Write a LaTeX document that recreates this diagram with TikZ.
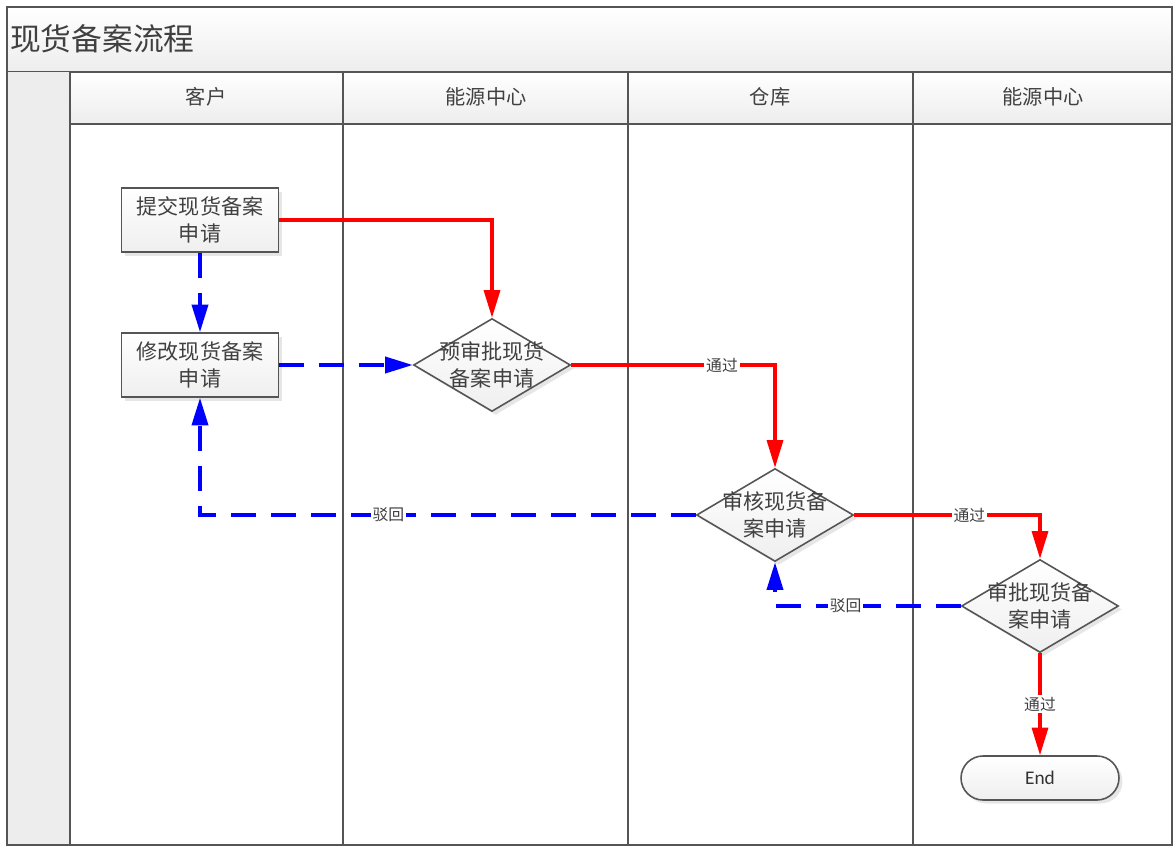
\documentclass[tikz,border=0pt]{standalone}
\usepackage{fontspec}
\setmainfont{Noto Sans CJK SC}
\newfontfamily\latinfont{Carlito}
\usepackage{tikz}
\usetikzlibrary{arrows.meta,shapes.geometric,shadows}
\definecolor{framegray}{HTML}{555555}
\definecolor{textgray}{HTML}{404040}
\definecolor{lanefill}{HTML}{EDEDED}
\tikzset{
    frameline/.style={draw=framegray,line width=1.1pt},
    headfill/.style={frameline,top color=white,bottom color=lanefill},
    lanetext/.style={text=textgray,font=\fontsize{11.5}{13}\selectfont},
    procbox/.style={draw=framegray,line width=0.9pt,top color=white,bottom color=lanefill!90,
      minimum width=3.14cm,minimum height=1.28cm,align=center,text=textgray,font=\fontsize{12}{15}\selectfont,
      drop shadow={opacity=0.2,shadow xshift=2pt,shadow yshift=-2pt}},
    decide/.style={diamond,draw=framegray,line width=0.9pt,top color=white,bottom color=lanefill!90,
      minimum width=3.14cm,minimum height=1.86cm,aspect=1.69,inner xsep=-12pt,inner ysep=-4pt,align=center,text=textgray,
      font=\fontsize{12}{15}\selectfont,drop shadow={opacity=0.2,shadow xshift=2pt,shadow yshift=-2pt}},
    okflow/.style={draw=red,line width=1.8pt,-{Triangle[length=0.55cm,width=0.32cm]}},
    backflow/.style={draw=blue,line width=2pt,dash pattern=on 0.5cm off 0.3cm,-{Triangle[length=0.55cm,width=0.32cm]}},
    flowtag/.style={fill=white,inner sep=1pt,text=textgray,font=\fontsize{9}{10}\selectfont},
  }
\begin{document}
\begin{tikzpicture}[x=0.02cm,y=-0.02cm]
	%bounding box
	\useasboundingbox (0,0) rectangle (1176,848);
	%TITLE AND LANES
	\draw[headfill] (7,7) rectangle (1172,72);
	\node[anchor=west,text=textgray,font=\fontsize{17.5}{20}\selectfont] (title) at (4,39) {现货备案流程};
	\fill[lanefill] (7,72) rectangle (70,845);
	\draw[headfill] (70,72) rectangle (343,124);
	\draw[headfill] (343,72) rectangle (628,124);
	\draw[headfill] (628,72) rectangle (913,124);
	\draw[headfill] (913,72) rectangle (1172,124);
	\node[lanetext] (laneKehu) at (206,97) {客户};
	\node[lanetext] (laneNyA) at (486,97) {能源中心};
	\node[lanetext] (laneCangku) at (770,97) {仓库};
	\node[lanetext] (laneNyB) at (1043,97) {能源中心};
	\draw[frameline] (70,124) -- (70,845);
	\draw[frameline] (343,124) -- (343,845);
	\draw[frameline] (628,124) -- (628,845);
	\draw[frameline] (913,124) -- (913,845);
	\draw[frameline] (7,7) rectangle (1172,845);
	%STEPS
	\node[procbox] (submit) at (200,220) {提交现货备案\\申请};
	\node[procbox] (modify) at (200,365) {修改现货备案\\申请};
	\node[decide] (precheck) at (492,365) {预审批现货\\备案申请};
	\node[decide] (audit) at (775,515) {审核现货备\\案申请};
	\node[decide] (approve) at (1040,606) {审批现货备\\案申请};
	\node[draw=framegray,line width=0.9pt,top color=white,bottom color=lanefill!90,rounded corners=0.44cm,
	  minimum width=3.16cm,minimum height=0.88cm,font=\latinfont\fontsize{11}{12}\selectfont,text=black!80,
	  drop shadow={opacity=0.2,shadow xshift=2pt,shadow yshift=-2pt}] (finish) at (1040,778) {End};
	%FLOWS
	\draw[okflow] (submit.east) -| (precheck.north);
	\draw[backflow] (submit.south) -- (modify.north);
	\draw[backflow] (modify.east) -- (precheck.west);
	\draw[okflow] (precheck.east) -| node[flowtag,pos=0.37] {通过} (audit.north);
	\draw[backflow] (audit.west) -| node[flowtag,pos=0.31] {驳回} (modify.south);
	\draw[okflow] (audit.east) -| node[flowtag,pos=0.31] {通过} (approve.north);
	\draw[backflow] (approve.west) -| node[flowtag,pos=0.31] {驳回} (audit.south);
	\draw[okflow] (approve.south) -- node[flowtag] {通过} (finish.north);
\end{tikzpicture}
\end{document}
